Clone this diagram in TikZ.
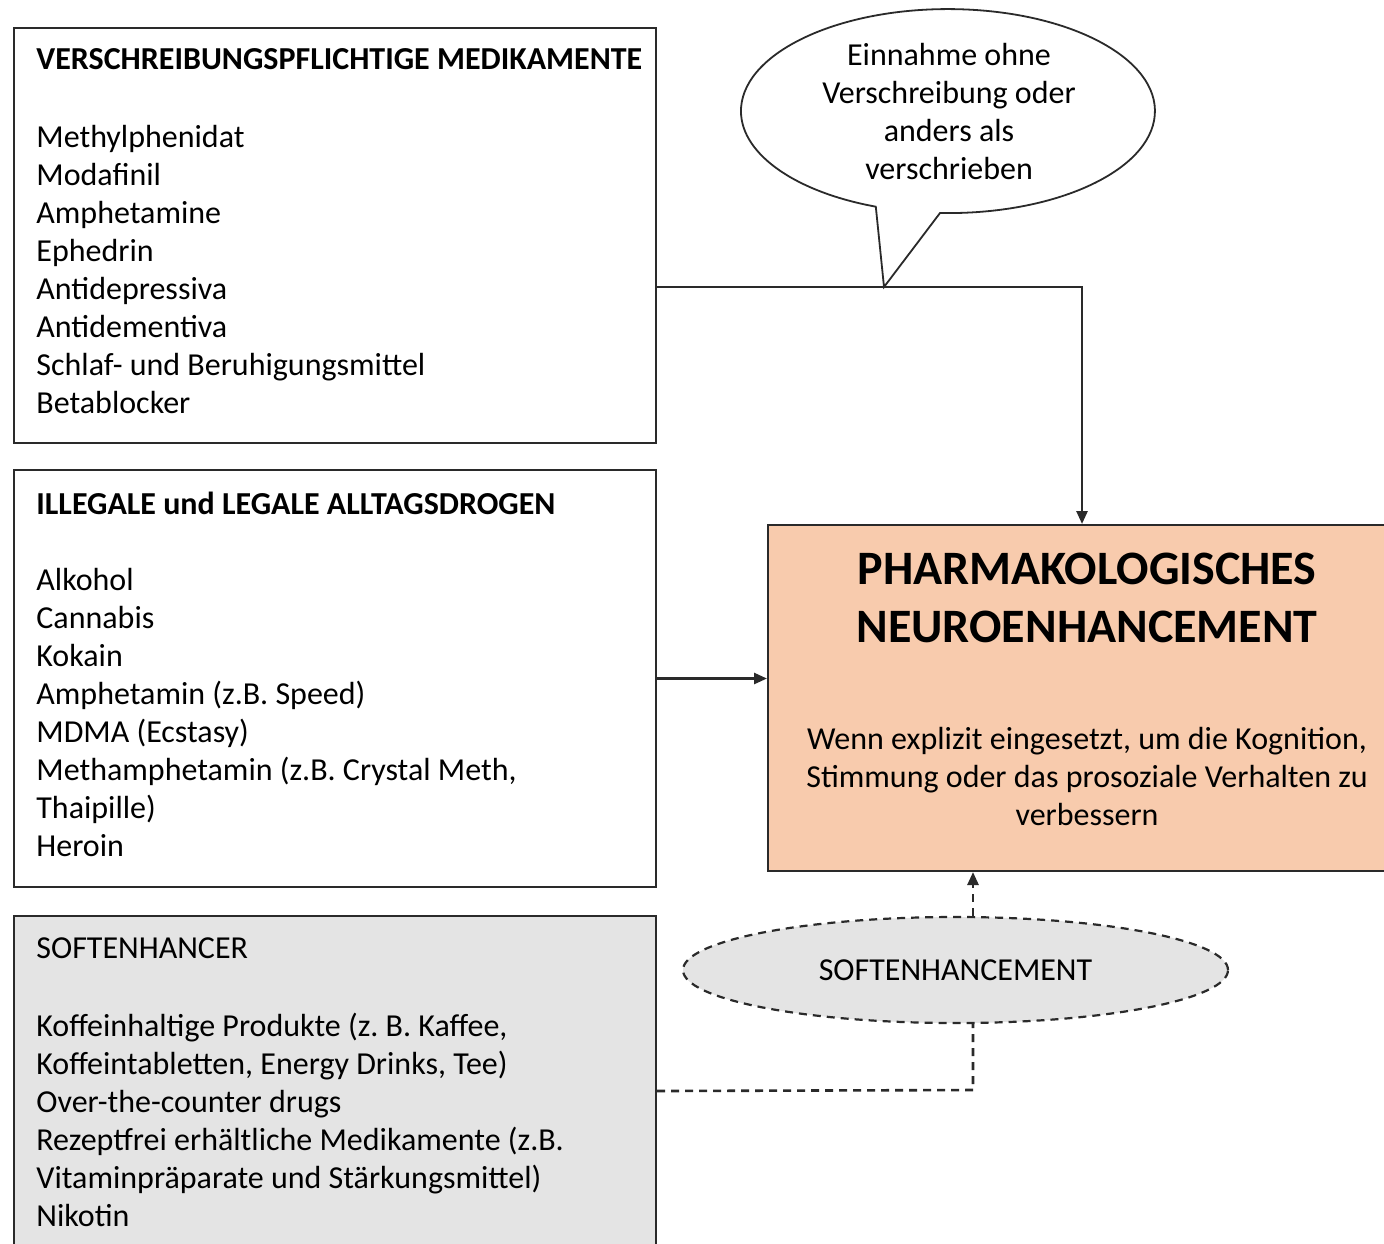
\documentclass[tikz,border=0pt]{standalone}
\usepackage{fontspec}
\setmainfont{Carlito}
\usetikzlibrary{arrows.meta,shapes.geometric}
\definecolor{peach}{HTML}{F8CBAD}
\definecolor{softgray}{HTML}{E4E4E4}
\definecolor{edge}{HTML}{2A2A2A}
\frenchspacing
\begin{document}
\begin{tikzpicture}[x=0.5pt,y=-0.5pt,
  box/.style={draw=edge, line width=1pt, rectangle, inner sep=0pt, anchor=north west},
  txt/.style={font=\fontsize{16}{19}\selectfont, inner sep=0pt, align=left, anchor=north west},
  ctxt/.style={font=\fontsize{16}{19}\selectfont, inner sep=0pt, align=center},
  conn/.style={draw=edge, line width=1.3pt},
  arr/.style={-{Triangle[length=6.5pt,width=5.5pt]}},
  dsh/.style={dash pattern=on 4pt off 3pt}]
\path[use as bounding box, clip] (0,0) rectangle (1384,1243);

% left boxes
\node[box, fill=white, minimum width=321pt, minimum height=207.5pt] (b1) at (13,27) {};
\node[txt] (t1) at (36,48) {\textbf{VERSCHREIBUNGSPFLICHTIGE MEDIKAMENTE}\\[20pt]
Methylphenidat\\ Modafinil\\ Amphetamine\\ Ephedrin\\ Antidepressiva\\ Antidementiva\\ Schlaf- und Beruhigungsmittel\\ Betablocker};

\node[box, fill=white, minimum width=321pt, minimum height=208.5pt] (b2) at (13,469) {};
\node[txt] (t2) at (36,492) {\textbf{ILLEGALE und LEGALE ALLTAGSDROGEN}\\[19pt]
Alkohol\\ Cannabis\\ Kokain\\ Amphetamin (z.B. Speed)\\ MDMA (Ecstasy)\\ Methamphetamin (z.B. Crystal Meth,\\ Thaipille)\\ Heroin};

\node[box, fill=softgray, minimum width=321pt, minimum height=175pt] (b3) at (13,915) {};
\node[txt] (t3) at (36,937) {SOFTENHANCER\\[20pt]
Koffeinhaltige Produkte (z. B. Kaffee,\\ Koffeintabletten, Energy Drinks, Tee)\\ Over-the-counter drugs\\ Rezeptfrei erhältliche Medikamente (z.B.\\ Vitaminpräparate und Stärkungsmittel)\\ Nikotin};

% main box
\node[box, fill=peach, minimum width=320pt, minimum height=173pt] (main) at (767,524) {};
\node[font=\bfseries\fontsize{24}{29}\selectfont, align=center, inner sep=0pt] (mt) at (1087,598) {PHARMAKOLOGISCHES\\ NEUROENHANCEMENT};
\node[ctxt] (mb) at (1087,776) {Wenn explizit eingesetzt, um die Kognition,\\ Stimmung oder das prosoziale Verhalten zu\\ verbessern};

% callout
\coordinate (tip) at (884,287);
\draw[draw=edge, line width=0.9pt, fill=white, line join=miter] (940,213) arc[start angle=-92.2, end angle=249.6, x radius=103.5pt, y radius=51pt] -- (tip) -- cycle;
\node[ctxt] (call) at (949,112) {Einnahme ohne\\ Verschreibung oder\\ anders als\\ verschrieben};

% connectors
\coordinate (j1) at (1082,287);
\draw[conn, arr] (b1.east |- tip) -- (j1) -- (j1 |- main.north);
\draw[conn, arr] (b2.east) -- (b2.east -| main.west);

% softenhancement
\node[ellipse, draw=edge, dsh, fill=softgray, line width=1.1pt, minimum width=272.5pt, minimum height=53pt, inner sep=0pt, font=\fontsize{16}{19}\selectfont] (soft) at (955.5,970) {SOFTENHANCEMENT};
\coordinate (j3) at (973,1090);
\draw[conn, dsh] (b3.east) -- (j3) -- (j3 |- soft.south);
\draw[conn, dsh, arr] (j3 |- soft.north) -- (j3 |- main.south);
\end{tikzpicture}
\end{document}
